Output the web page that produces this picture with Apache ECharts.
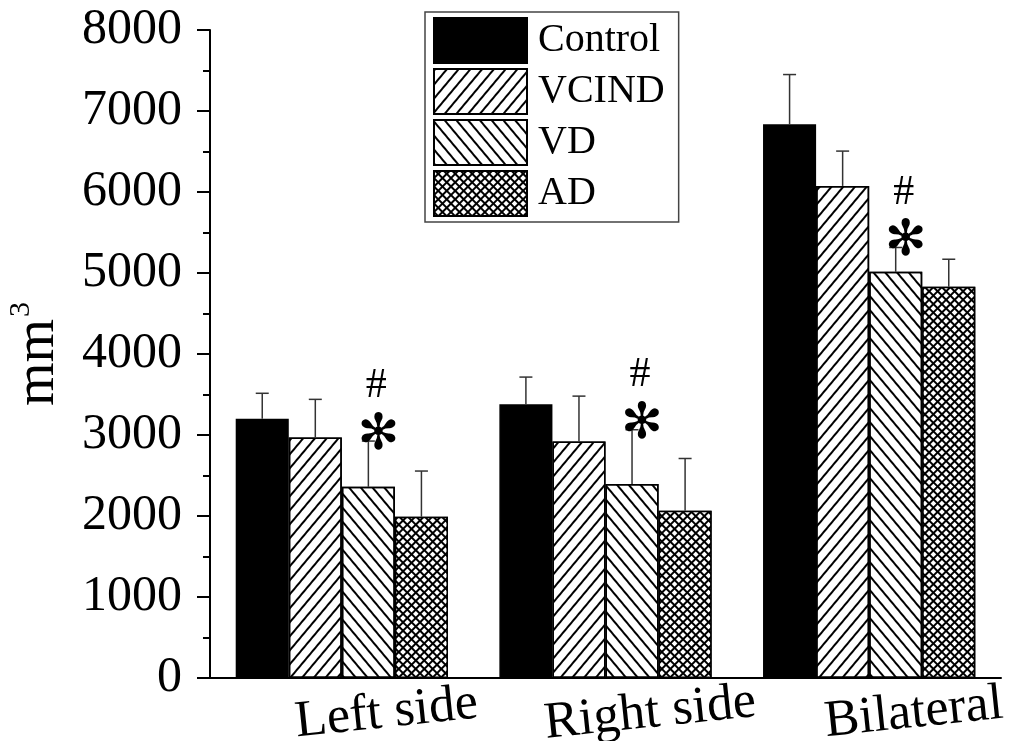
<!DOCTYPE html>
<html>
<head>
<meta charset="utf-8">
<script src="https://cdn.jsdelivr.net/npm/echarts@6/dist/echarts.min.js"></script>
<style>
  html, body { margin: 0; padding: 0; background: #fff; }
  #chart { width: 1011px; height: 741px; }
</style>
</head>
<body>
<div id="chart"></div>
<script>
// Regional volumes (mm^3), mean and SD per group
const categories = ['Left side', 'Right side', 'Bilateral'];
const groups = ['Control', 'VCIND', 'VD', 'AD'];

const controlMean = [3200, 3380, 6835];
const controlSD   = [315, 335, 615];
const vcindMean   = [2970, 2920, 6075];
const vcindSD     = [470, 560, 430];
const vdMean      = [2360, 2395, 5015];
const vdSD        = [565, 670, 300];
const adMean      = [1990, 2065, 4830];
const adSD        = [565, 645, 340];

// Significance marks drawn above the VD bars
const vdHash = ['#', '#', '#'];
const vdStar = ['✻', '✻', '✻'];

const yMin = 0, yMax = 8000, yStep = 1000;

const FONT = "'Liberation Serif', 'Times New Roman', serif";
const CAT_GAP = 0.195;

const means = [controlMean, vcindMean, vdMean, adMean];
const sds = [controlSD, vcindSD, vdSD, adSD];

// Fill patterns for the four groups
const decals = [
  null,
  { symbol: 'rect', symbolSize: 1, color: '#000', dashArrayX: [1, 0], dashArrayY: [1.5, 6.5], rotation: -50 * Math.PI / 180 },
  { symbol: 'rect', symbolSize: 1, color: '#000', dashArrayX: [1, 0], dashArrayY: [1.5, 6.5], rotation: 50 * Math.PI / 180 },
  { symbol: 'rect', symbolSize: 1, color: '#fff', dashArrayX: [3.5, 1.5], dashArrayY: [3.5, 1.5], rotation: Math.PI / 4 }
];
const fills = ['#000', '#fff', '#fff', '#000'];

const barSeries = groups.map((g, k) => ({
  type: 'bar',
  name: g,
  data: means[k],
  barGap: '0%',
  barCategoryGap: (CAT_GAP * 100) + '%',
  itemStyle: Object.assign(
    { color: fills[k], borderColor: '#000', borderWidth: 1.5 },
    decals[k] ? { decal: decals[k] } : {}
  ),
  z: 2
}));

function sdSeries(k) {
  return {
    type: 'custom',
    name: groups[k] + ' SD',
    silent: true,
    z: 4,
    data: categories.map((c, i) => [i, means[k][i], sds[k][i]]),
    encode: { x: 0, y: 1 },
    renderItem: (params, api) => {
      const i = api.value(0);
      const m = api.value(1);
      const sd = api.value(2);
      const band = api.size([1, 0])[0];
      const groupW = band * (1 - CAT_GAP);
      const bw = groupW / groups.length;
      const base = api.coord([i, m]);
      const top = api.coord([i, m + sd]);
      const x = base[0] - groupW / 2 + (k + 0.5) * bw;
      const lineStyle = { stroke: '#333', lineWidth: 1.5 };
      const children = [
        { type: 'line', shape: { x1: x, y1: base[1], x2: x, y2: top[1] }, style: lineStyle },
        { type: 'line', shape: { x1: x - 6.5, y1: top[1], x2: x + 6.5, y2: top[1] }, style: lineStyle }
      ];
      if (k === 2) {
        const starY = top[1] - 5;
        children.push({
          type: 'text', x: x + 10, y: starY,
          style: { text: vdStar[i], font: "50px 'DejaVu Sans'", fill: '#000', align: 'center', verticalAlign: 'middle' }
        });
        children.push({
          type: 'text', x: x + 8, y: starY - 50,
          style: { text: vdHash[i], font: '42px ' + FONT, fill: '#000', align: 'center', verticalAlign: 'middle' }
        });
      }
      return { type: 'group', children };
    }
  };
}

const chart = echarts.init(document.getElementById('chart'), null, { renderer: 'canvas' });

chart.setOption({
  backgroundColor: '#fff',
  animation: false,
  textStyle: { fontFamily: FONT, color: '#000' },
  grid: { left: 210, right: 10, top: 30, bottom: 63, outerBoundsMode: 'none' },
  legend: {
    data: groups,
    orient: 'vertical',
    left: 425,
    top: 12,
    icon: 'rect',
    itemWidth: 93,
    itemHeight: 45,
    itemGap: 4,
    padding: [5, 14, 5, 8],
    borderColor: '#444',
    borderWidth: 1.5,
    textStyle: { fontFamily: FONT, fontSize: 40, lineHeight: 45, color: '#000', padding: [0, 0, 0, 6] }
  },
  xAxis: {
    type: 'category',
    data: categories,
    axisLine: { lineStyle: { color: '#000', width: 2 } },
    axisTick: { alignWithLabel: true, length: 13, lineStyle: { color: '#000', width: 2 } },
    axisLabel: {
      interval: 0,
      hideOverlap: false,
      rotate: 6,
      align: 'center',
      verticalAlign: 'middle',
      margin: 40,
      padding: [0, 0, 0, 90],
      fontFamily: FONT,
      fontSize: 52,
      color: '#000'
    }
  },
  yAxis: {
    type: 'value',
    min: yMin,
    max: yMax,
    interval: yStep,
    name: '{b|mm}{s|3}',
    nameLocation: 'middle',
    nameRotate: 90,
    nameGap: 140,
    nameTextStyle: {
      rich: {
        b: { fontFamily: FONT, fontSize: 56, color: '#000' },
        s: { fontFamily: FONT, fontSize: 30, color: '#000', verticalAlign: 'top', padding: [0, 0, 34, 2] }
      }
    },
    splitLine: { show: false },
    axisLine: { show: true, lineStyle: { color: '#000', width: 2 } },
    axisTick: { show: true, length: 13, lineStyle: { color: '#000', width: 2 } },
    minorTick: { show: true, splitNumber: 2, length: 7, lineStyle: { color: '#000', width: 2 } },
    axisLabel: { margin: 28, fontFamily: FONT, fontSize: 50, color: '#000', formatter: v => String(v) }
  },
  series: barSeries.concat(groups.map((g, k) => sdSeries(k)))
});
</script>
</body>
</html>
